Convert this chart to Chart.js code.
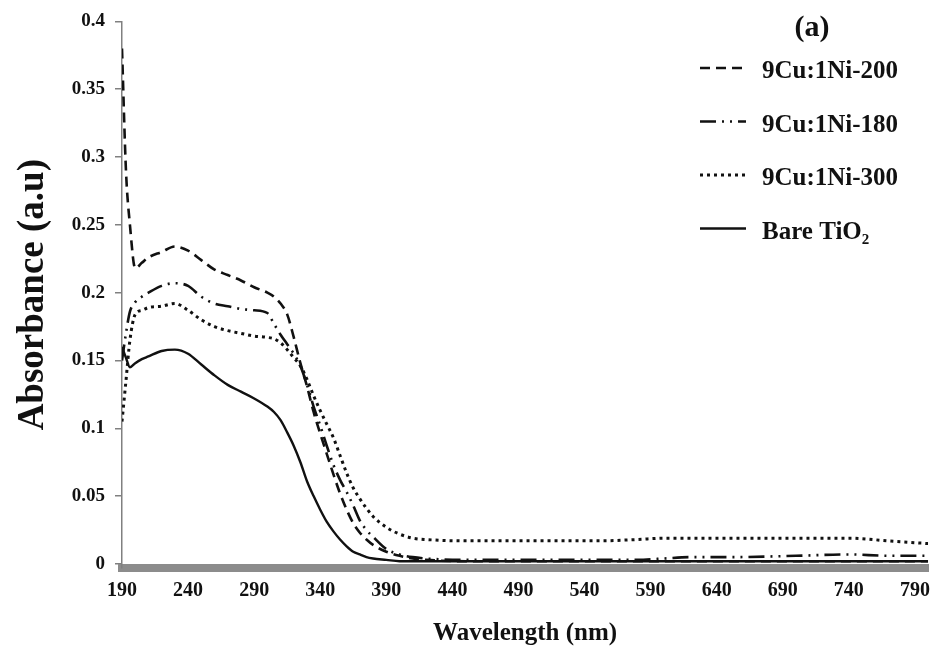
<!DOCTYPE html>
<html>
<head>
<meta charset="utf-8">
<script src="https://cdn.jsdelivr.net/npm/chart.js@4.4.1/dist/chart.umd.min.js"></script>
<style>
  html, body { margin: 0; padding: 0; background: #fff; }
  #wrap { width: 941px; height: 660px; }
</style>
</head>
<body>
<div id="wrap"><canvas id="uvChart" width="941" height="660"></canvas></div>
<script>
// UV-Vis Absorbance, Werte
const wavelengths = [190, 193, 196, 200, 205, 210, 220, 230, 240, 250, 260, 270, 280, 290, 300,
  305, 310, 315, 320, 325, 330, 335, 340, 345, 350, 355, 360, 365, 370, 375, 380, 390, 400,
  410, 420, 450, 500, 550, 580, 600, 620, 650, 700, 740, 770, 800];

const abs200 = [0.380, 0.290, 0.250, 0.218, 0.222, 0.226, 0.230, 0.234, 0.231, 0.224, 0.217, 0.213, 0.209, 0.204, 0.200,
  0.197, 0.192, 0.184, 0.167, 0.148, 0.131, 0.112, 0.096, 0.081, 0.066, 0.052, 0.040, 0.030, 0.023, 0.018, 0.014, 0.009, 0.006,
  0.004, 0.003, 0.002, 0.002, 0.002, 0.002, 0.002, 0.002, 0.002, 0.002, 0.002, 0.002, 0.002];

const abs180 = [0.150, 0.170, 0.186, 0.193, 0.197, 0.200, 0.205, 0.207, 0.205, 0.197, 0.192, 0.190, 0.188, 0.187, 0.185,
  0.177, 0.169, 0.162, 0.155, 0.146, 0.132, 0.116, 0.102, 0.087, 0.073, 0.062, 0.053, 0.043, 0.032, 0.025, 0.020, 0.011, 0.007,
  0.005, 0.004, 0.003, 0.003, 0.003, 0.003, 0.004, 0.005, 0.005, 0.006, 0.007, 0.006, 0.006];

const abs300 = [0.105, 0.135, 0.165, 0.184, 0.187, 0.189, 0.190, 0.192, 0.187, 0.180, 0.175, 0.172, 0.170, 0.168, 0.167,
  0.166, 0.163, 0.158, 0.152, 0.146, 0.136, 0.124, 0.113, 0.103, 0.093, 0.080, 0.067, 0.056, 0.048, 0.041, 0.035, 0.027, 0.022,
  0.019, 0.018, 0.017, 0.017, 0.017, 0.018, 0.019, 0.019, 0.019, 0.019, 0.019, 0.017, 0.015];

const absBare = [0.160, 0.152, 0.145, 0.148, 0.151, 0.153, 0.157, 0.158, 0.155, 0.147, 0.139, 0.132, 0.127, 0.122, 0.116,
  0.112, 0.106, 0.097, 0.087, 0.075, 0.061, 0.050, 0.040, 0.031, 0.024, 0.018, 0.013, 0.009, 0.007, 0.005, 0.004, 0.003, 0.002,
  0.002, 0.002, 0.002, 0.002, 0.002, 0.002, 0.002, 0.002, 0.002, 0.002, 0.002, 0.002, 0.002];

const seriesLabels = ['9Cu:1Ni-200', '9Cu:1Ni-180', '9Cu:1Ni-300', 'Bare TiO₂'];
const xTicks = [190, 240, 290, 340, 390, 440, 490, 540, 590, 640, 690, 740, 790];
const yTicks = [0, 0.05, 0.1, 0.15, 0.2, 0.25, 0.3, 0.35, 0.4];

const SERIF = "'Liberation Serif', 'Times New Roman', serif";

function toPoints(values) {
  return wavelengths.map((w, i) => ({ x: w, y: values[i] }));
}

// Legende + "(a)" selbst zeichnen (wie im Original, innerhalb der Zeichenflaeche)
const sideLegend = {
  id: 'sideLegend',
  afterDraw(chart) {
    const ctx = chart.ctx;
    ctx.save();
    ctx.fillStyle = '#111';
    ctx.font = 'bold 30px ' + SERIF;
    ctx.textAlign = 'center';
    ctx.textBaseline = 'middle';
    ctx.fillText('(a)', 812, 28);

    chart.data.datasets.forEach((ds, i) => {
      const y = 72 + i * 53.5;
      ctx.strokeStyle = '#111';
      ctx.lineWidth = ds.borderWidth;
      ctx.setLineDash(ds.borderDash || []);
      ctx.beginPath();
      ctx.moveTo(700, y - 4);
      ctx.lineTo(746, y - 4);
      ctx.stroke();
      ctx.setLineDash([]);
      ctx.font = 'bold 25px ' + SERIF;
      ctx.textAlign = 'left';
      ctx.fillText(ds.label, 762, y);
    });
    ctx.restore();
  }
};

const ctx = document.getElementById('uvChart');

new Chart(ctx, {
  type: 'line',
  data: {
    datasets: [
      { label: seriesLabels[0], data: toPoints(abs200), borderColor: '#111', borderWidth: 2.6, borderDash: [10, 6] },
      { label: seriesLabels[1], data: toPoints(abs180), borderColor: '#111', borderWidth: 2.6, borderDash: [16, 6, 2, 6, 2, 6] },
      { label: seriesLabels[2], data: toPoints(abs300), borderColor: '#111', borderWidth: 3, borderDash: [3, 4] },
      { label: seriesLabels[3], data: toPoints(absBare), borderColor: '#111', borderWidth: 2.4, borderDash: [] }
    ]
  },
  options: {
    responsive: false,
    animation: false,
    parsing: false,
    layout: { padding: { top: 20, right: 6, left: 0, bottom: 0 } },
    elements: {
      point: { radius: 0 },
      line: { fill: false, cubicInterpolationMode: 'monotone' }
    },
    plugins: {
      legend: { display: false },
      tooltip: { enabled: false }
    },
    scales: {
      x: {
        type: 'linear',
        min: 190,
        max: 800,
        afterBuildTicks: (scale) => { scale.ticks = xTicks.map(v => ({ value: v })); },
        afterFit: (scale) => { scale.height = 92; },
        grid: { display: true, drawOnChartArea: false, drawTicks: false },
        border: { display: true, color: '#8c8c8c', width: 8 },
        ticks: {
          color: '#111',
          padding: 11,
          maxRotation: 0,
          autoSkip: false,
          font: { family: SERIF, size: 20, weight: 'bold' },
          callback: (v) => String(v)
        },
        title: {
          display: true,
          text: 'Wavelength (nm)',
          color: '#111',
          padding: { top: 0, bottom: 11 },
          font: { family: SERIF, size: 25, weight: 'bold' }
        }
      },
      y: {
        min: -0.003,
        max: 0.4,
        afterBuildTicks: (scale) => { scale.ticks = yTicks.map(v => ({ value: v })); },
        afterFit: (scale) => { scale.width = 122; },
        grid: { display: true, drawOnChartArea: false, drawTicks: true, tickLength: 7, color: '#808080', lineWidth: 1.5 },
        border: { display: true, color: '#808080', width: 1.5 },
        ticks: {
          color: '#111',
          padding: 10,
          autoSkip: false,
          font: { family: SERIF, size: 19, weight: 'bold' },
          callback: (v) => String(v)
        },
        title: {
          display: true,
          text: 'Absorbance (a.u)',
          color: '#111',
          padding: { top: 11, bottom: 0 },
          font: { family: SERIF, size: 37, weight: 'bold' }
        }
      }
    }
  },
  plugins: [sideLegend]
});
</script>
</body>
</html>
